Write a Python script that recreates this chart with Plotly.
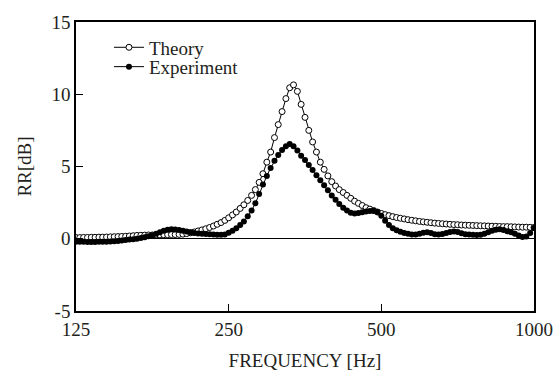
import plotly.graph_objects as go

# Frequency grid (Hz), 1/40-octave steps from 125 to 1000 Hz
freq = [
    125.0, 127.2, 129.4, 131.7, 134.0, 136.3, 138.7, 141.1, 143.6, 146.1,
    148.7, 151.3, 153.9, 156.6, 159.3, 162.1, 164.9, 167.8, 170.8, 173.7,
    176.8, 179.9, 183.0, 186.2, 189.5, 192.8, 196.1, 199.6, 203.1, 206.6,
    210.2, 213.9, 217.6, 221.4, 225.3, 229.3, 233.3, 237.3, 241.5, 245.7,
    250.0, 254.4, 258.8, 263.4, 267.9, 272.6, 277.4, 282.2, 287.1, 292.1,
    297.3, 302.5, 307.8, 313.1, 318.6, 324.2, 329.8, 335.6, 341.5, 347.4,
    353.6, 359.7, 366.0, 372.4, 379.0, 385.6, 392.3, 399.2, 406.2, 413.1,
    420.5, 427.8, 435.2, 442.9, 450.6, 458.5, 466.5, 474.6, 483.0, 491.4,
    500.0, 508.7, 517.6, 526.7, 535.9, 545.2, 554.8, 564.5, 574.3, 584.4,
    594.6, 605.0, 615.6, 626.3, 637.3, 648.4, 659.8, 671.3, 683.0, 695.0,
    707.1, 719.5, 732.1, 744.9, 757.9, 771.1, 784.6, 798.3, 812.2, 826.4,
    840.9, 855.6, 870.5, 885.6, 901.2, 916.9, 932.9, 949.2, 965.8, 982.7,
    1000.0,
]

theory_rr = [
    0.08, 0.08, 0.09, 0.09, 0.10, 0.10, 0.11, 0.11, 0.12, 0.13,
    0.14, 0.15, 0.16, 0.17, 0.19, 0.21, 0.23, 0.24, 0.25, 0.26,
    0.26, 0.27, 0.27, 0.28, 0.28, 0.29, 0.29, 0.30, 0.32, 0.36,
    0.41, 0.47, 0.54, 0.61, 0.69, 0.78, 0.88, 1.00, 1.12, 1.27,
    1.45, 1.65, 1.85, 2.10, 2.35, 2.65, 3.00, 3.40, 3.90, 4.50,
    5.30, 6.00, 7.00, 7.90, 8.80, 9.70, 10.45, 10.65, 10.20, 9.30,
    8.40, 7.50, 6.70, 6.00, 5.30, 4.80, 4.35, 3.95, 3.65, 3.40,
    3.20, 3.00, 2.80, 2.60, 2.45, 2.30, 2.15, 2.05, 1.95, 1.85,
    1.75, 1.67, 1.60, 1.53, 1.47, 1.42, 1.37, 1.32, 1.28, 1.24,
    1.20, 1.17, 1.14, 1.11, 1.08, 1.06, 1.04, 1.02, 1.00, 0.98,
    0.97, 0.95, 0.94, 0.93, 0.92, 0.91, 0.90, 0.89, 0.88, 0.87,
    0.86, 0.85, 0.84, 0.84, 0.83, 0.82, 0.81, 0.80, 0.80, 0.79,
    0.78,
]

experiment_rr = [
    -0.20, -0.21, -0.21, -0.22, -0.22, -0.22, -0.21, -0.21, -0.20, -0.19,
    -0.17, -0.15, -0.12, -0.09, -0.06, -0.03, 0.00, 0.05, 0.10, 0.17,
    0.25, 0.35, 0.45, 0.55, 0.62, 0.65, 0.64, 0.60, 0.55, 0.50,
    0.45, 0.40, 0.37, 0.35, 0.33, 0.31, 0.29, 0.27, 0.27, 0.30,
    0.42, 0.55, 0.72, 0.95, 1.20, 1.55, 1.95, 2.45, 3.10, 3.75,
    4.35, 4.90, 5.40, 5.80, 6.15, 6.40, 6.55, 6.40, 6.10, 5.75,
    5.45, 5.10, 4.75, 4.40, 4.05, 3.70, 3.35, 3.00, 2.70, 2.40,
    2.15, 1.95, 1.80, 1.75, 1.78, 1.83, 1.88, 1.92, 1.93, 1.85,
    1.60, 1.25, 0.95, 0.72, 0.58, 0.48, 0.40, 0.34, 0.30, 0.30,
    0.35, 0.42, 0.45, 0.40, 0.32, 0.30, 0.33, 0.40, 0.47, 0.50,
    0.46, 0.38, 0.32, 0.30, 0.28, 0.26, 0.28, 0.35, 0.45, 0.55,
    0.62, 0.65, 0.60, 0.52, 0.45, 0.35, 0.22, 0.12, 0.15, 0.40,
    0.75,
]

x_tick_vals = [125, 250, 500, 1000]
x_tick_text = ["125", "250", "500", "1000"]
y_tick_vals = [-5, 0, 5, 10, 15]
y_tick_text = ["-5", "0", "5", "10", "15"]

FONT = "Liberation Serif, Times New Roman, serif"
TXT = "#231f20"

fig = go.Figure()
fig.add_trace(go.Scatter(
    x=freq, y=theory_rr, name="Theory", mode="lines+markers",
    line=dict(color="black", width=1),
    marker=dict(symbol="circle", size=6, color="white",
                line=dict(color="black", width=1)),
    legend="legend",
))
fig.add_trace(go.Scatter(
    x=freq, y=experiment_rr, name="Experiment", mode="lines+markers",
    line=dict(color="black", width=1),
    marker=dict(symbol="circle", size=6, color="black",
                line=dict(color="black", width=0)),
    legend="legend2",
))

leg_common = dict(xanchor="left", yanchor="middle",
                  bgcolor="rgba(0,0,0,0)", borderwidth=0,
                  font=dict(family=FONT, size=19, color=TXT),
                  itemwidth=30)

fig.update_layout(
    width=554, height=376,
    margin=dict(l=76, r=20, t=15, b=65),
    paper_bgcolor="white", plot_bgcolor="white",
    font=dict(family=FONT, size=19, color=TXT),
    showlegend=True,
    legend=dict(x=0.072, y=0.912, **leg_common),
    legend2=dict(x=0.072, y=0.845, **leg_common),
    xaxis=dict(
        type="log", range=[2.09691, 3.0],
        tickmode="array", tickvals=x_tick_vals, ticktext=x_tick_text,
        ticks="inside", ticklen=7, tickwidth=1.2, tickcolor="black",
        showline=True, linecolor="black", linewidth=1.5, mirror=True,
        showgrid=False, zeroline=False, automargin=False,
        title=dict(text="FREQUENCY [Hz]", font=dict(family=FONT, size=19, color=TXT), standoff=15),
        tickfont=dict(family=FONT, size=19, color=TXT),
    ),
    yaxis=dict(
        range=[-5, 15],
        tickmode="array", tickvals=y_tick_vals, ticktext=y_tick_text,
        ticks="inside", ticklen=7, tickwidth=1.2, tickcolor="black",
        showline=True, linecolor="black", linewidth=1.5, mirror=True,
        showgrid=False,
        zeroline=True, zerolinecolor="black", zerolinewidth=1,
        title=dict(text="RR[dB]", font=dict(family=FONT, size=19, color=TXT), standoff=15),
        tickfont=dict(family=FONT, size=19, color=TXT),
    ),
)

fig.write_html("out.html")
